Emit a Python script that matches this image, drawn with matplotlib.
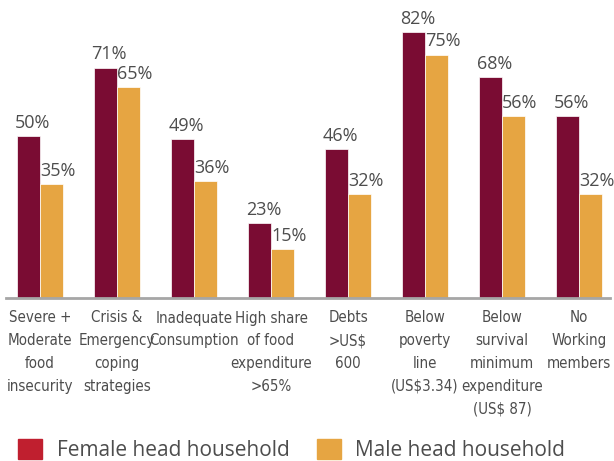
import matplotlib
matplotlib.use('Agg')
from matplotlib import pyplot as plt
from matplotlib.patches import Patch
import numpy as np

categories = ['Severe +\nModerate\nfood\ninsecurity',
              'Crisis &\nEmergency\ncoping\nstrategies',
              'Inadequate\nConsumption',
              'High share\nof food\nexpenditure\n>65%',
              'Debts\n>US$\n600',
              'Below\npoverty\nline\n(US$3.34)',
              'Below\nsurvival\nminimum\nexpenditure\n(US$ 87)',
              'No\nWorking\nmembers']
female = [50, 71, 49, 23, 46, 82, 68, 56]
male = [35, 65, 36, 15, 32, 75, 56, 32]
series_names = ['Female head household', 'Male head household']

c_female = '#7A0C33'
c_male = '#E6A542'
c_legend_f = '#C01F2F'
c_text = '#4D4D4D'

fig = plt.figure(figsize=(6.14, 4.61), dpi=100)
ax = fig.add_axes([6/614, (461-298)/461, 604/614, 292/461])

x = np.arange(len(categories))
w = 0.3
ax.bar(x - w/2, female, w, color=c_female, edgecolor='white', linewidth=0.5)
ax.bar(x + w/2, male, w, color=c_male, edgecolor='white', linewidth=0.5)

for i in range(len(x)):
    ax.text(x[i] - w/2 + 0.05, female[i] + 1.3, '%d%%' % female[i], ha='center', va='bottom',
            fontsize=13, color=c_text, family=['Open Sans', 'DejaVu Sans'])
    ax.text(x[i] + w/2 + 0.08, male[i] + 1.3, '%d%%' % male[i], ha='center', va='bottom',
            fontsize=13, color=c_text, family=['Open Sans', 'DejaVu Sans'])

ax.set_xlim(-0.44, 7.40)
ax.set_ylim(0, 90)
ax.set_yticks([])
ax.set_xticks(x)
ax.set_xticklabels(categories, fontsize=10.8, color=c_text, linespacing=1.65,
                   family='DejaVu Sans', fontstretch='condensed')
ax.tick_params(axis='x', length=0, pad=9)
for s in ['top', 'right', 'left']:
    ax.spines[s].set_visible(False)
ax.spines['bottom'].set_color('#A6A6A6')
ax.spines['bottom'].set_linewidth(2)

handles = [Patch(color=c_legend_f), Patch(color=c_male)]
leg = fig.legend(handles, series_names, loc='lower left', bbox_to_anchor=(10/614, -8/461),
                 ncol=2, frameon=False, handlelength=1.15, handleheight=1.1,
                 handletextpad=0.7, columnspacing=1.3, borderaxespad=0,
                 prop={'family': ['Open Sans', 'DejaVu Sans'], 'size': 15})
for t in leg.get_texts():
    t.set_color(c_text)

fig.savefig('out.png', dpi=100)
